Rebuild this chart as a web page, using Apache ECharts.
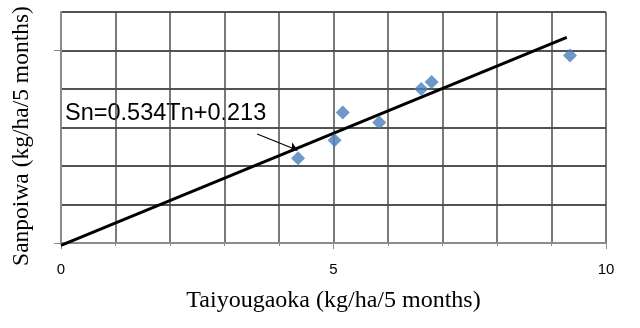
<!DOCTYPE html>
<html>
<head>
<meta charset="utf-8">
<script src="https://cdn.jsdelivr.net/npm/echarts@6/dist/echarts.min.js"></script>
<style>
  html, body { margin: 0; padding: 0; background: #fff; }
  #main { width: 640px; height: 328px; }
</style>
</head>
<body>
<div id="main"></div>
<script>
// values (kg/ha/5 months)
var taiyougaoka = [4.35, 5.02, 5.17, 5.84, 6.61, 6.80, 9.34];
var sanpoiwa = [2.20, 2.67, 3.39, 3.13, 4.00, 4.18, 4.87];
// regression line as drawn
var fitX = [0, 9.28];
var fitY = [-0.06, 5.34];
var xTickLabels = [0, 5, 10];
var yMajorTicks = [0, 5];
var equationText = "Sn=0.534Tn+0.213";
var yTitle = "Sanpoiwa (kg/ha/5 months)";
// arrow pointing to the line (tail, head)
var arrowFrom = [3.6, 2.83];
var arrowTo = [4.34, 2.41];

function init_scatter_chart(container) {
  var chartDom = document.getElementById(container);
  var myChart = echarts.init(chartDom);
  var option;

  var points = taiyougaoka.map(function (x, i) {
    return [x, sanpoiwa[i]];
  });
  var fitLine = fitX.map(function (x, i) {
    return [x, fitY[i]];
  });

  option = {
    animation: false,
    backgroundColor: "#fff",
    grid: {
      left: 61,
      right: 34,
      top: 12,
      bottom: 85,
      outerBoundsMode: "none",
    },
    xAxis: {
      type: "value",
      min: 0,
      max: 10,
      interval: 5,
      name: "Taiyougaoka (kg/ha/5 months)",
      nameLocation: "middle",
      nameGap: 46,
      nameTextStyle: {
        color: "#000",
        fontFamily: "Liberation Serif",
        fontSize: 24,
      },
      axisLine: {
        lineStyle: { color: "#8c8c8c", width: 2 },
      },
      axisTick: {
        show: true,
        length: 6,
        lineStyle: { color: "#8c8c8c", width: 1 },
      },
      minorTick: {
        show: true,
        splitNumber: 5,
        length: 3,
        lineStyle: { color: "#8c8c8c", width: 1 },
      },
      axisLabel: {
        customValues: xTickLabels,
        margin: 19,
        color: "#000",
        fontFamily: "Liberation Sans",
        fontSize: 15,
      },
      splitLine: {
        show: true,
        lineStyle: { color: "#4d4d4d", width: 1.5 },
      },
      minorSplitLine: {
        show: true,
        lineStyle: { color: "#4d4d4d", width: 1.5 },
      },
    },
    yAxis: [
      {
        type: "value",
        min: 0,
        max: 6,
        interval: 1,
        axisLine: {
          show: true,
          lineStyle: { color: "#8c8c8c", width: 2 },
        },
        axisTick: { show: false },
        axisLabel: { show: false },
        splitLine: {
          show: true,
          lineStyle: { color: "#1a1a1a", width: 1.5 },
        },
      },
      {
        // overlay axis carrying only the major ticks at 0 and 5
        type: "value",
        position: "left",
        min: 0,
        max: 6,
        interval: 1,
        axisLine: { show: false },
        axisTick: {
          show: true,
          customValues: yMajorTicks,
          length: 7,
          lineStyle: { color: "#8c8c8c", width: 1 },
        },
        axisLabel: { show: false },
        splitLine: { show: false },
      },
    ],
    graphic: [
      {
        type: "text",
        left: 65,
        top: 102,
        style: {
          text: equationText,
          fill: "#000",
          font: '23.5px "Liberation Sans"',
        },
      },
      {
        // y axis title, rotated
        type: "text",
        x: 22,
        y: 136,
        rotation: Math.PI / 2,
        style: {
          text: yTitle,
          fill: "#000",
          font: '23.5px "Liberation Serif"',
          align: "center",
          verticalAlign: "middle",
        },
      },
    ],
    series: [
      {
        name: "fit",
        type: "line",
        data: fitLine,
        symbol: "none",
        clip: false,
        lineStyle: { color: "#000", width: 3 },
        markLine: {
          silent: true,
          symbol: ["none", "arrow"],
          symbolSize: 8,
          label: { show: false },
          lineStyle: { color: "#000", width: 1.2, type: "solid" },
          data: [[{ coord: arrowFrom }, { coord: arrowTo }]],
        },
        z: 3,
      },
      {
        name: "data",
        type: "scatter",
        data: points,
        symbol: "diamond",
        symbolSize: 14,
        itemStyle: { color: "#4a7ebb" },
        z: 4,
      },
    ],
  };

  option && myChart.setOption(option);
  window.addEventListener("resize", function () {
    myChart.resize();
  });
}

init_scatter_chart("main");
</script>
</body>
</html>
